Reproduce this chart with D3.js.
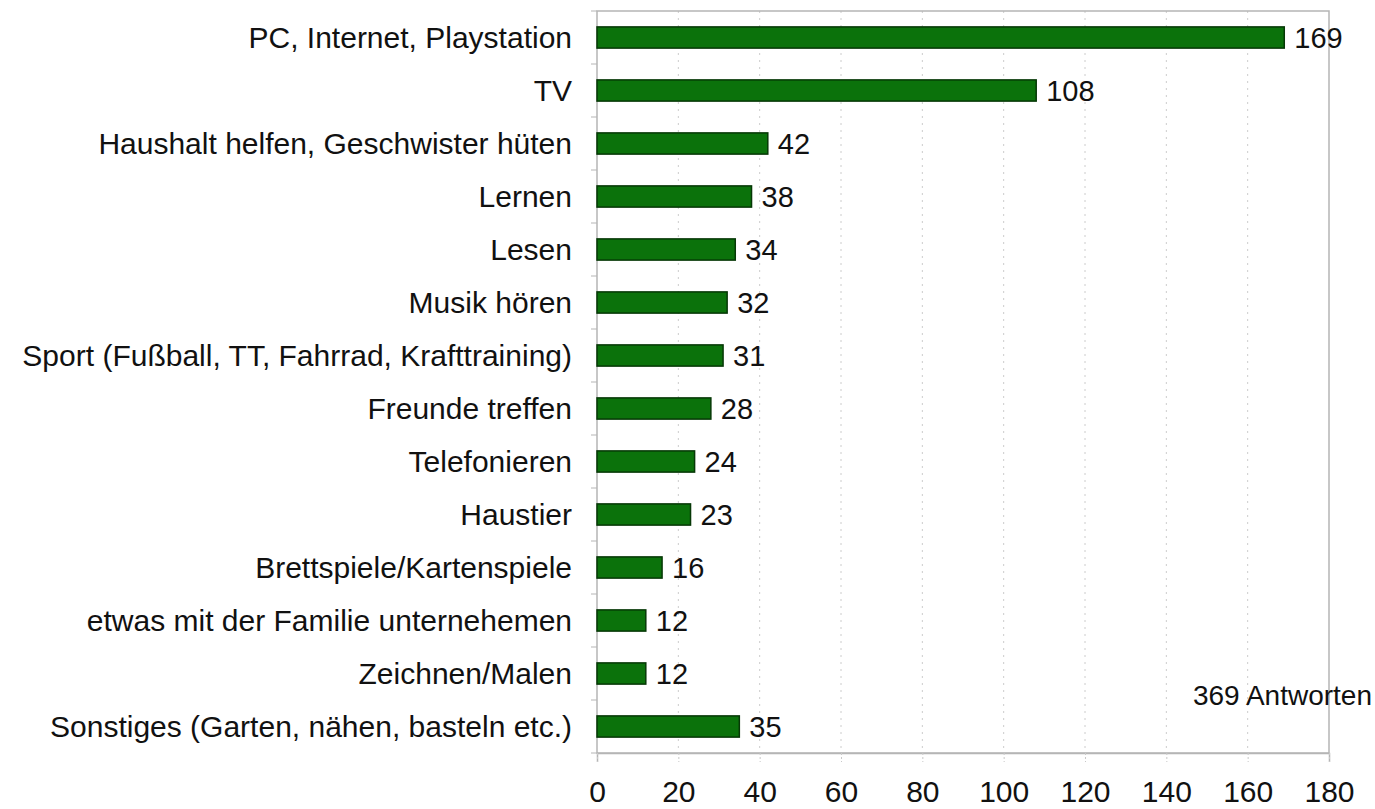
<!DOCTYPE html>
<html>
<head>
<meta charset="utf-8">
<script src="https://cdn.jsdelivr.net/npm/d3@7"></script>
<style>
  body { margin: 0; background: #fff; }
  text { font-family: "Liberation Sans", Arial, sans-serif; fill: #111; }
</style>
</head>
<body>
<svg id="chart"></svg>
<script>
// Freizeitaktivitaeten, Anzahl Nennungen
var categories = [
  "PC, Internet, Playstation",
  "TV",
  "Haushalt helfen, Geschwister hüten",
  "Lernen",
  "Lesen",
  "Musik hören",
  "Sport (Fußball, TT, Fahrrad, Krafttraining)",
  "Freunde treffen",
  "Telefonieren",
  "Haustier",
  "Brettspiele/Kartenspiele",
  "etwas mit der Familie unternehemen",
  "Zeichnen/Malen",
  "Sonstiges (Garten, nähen, basteln etc.)"
]
var values = [169, 108, 42, 38, 34, 32, 31, 28, 24, 23, 16, 12, 12, 35]
var xTicks = [0, 20, 40, 60, 80, 100, 120, 140, 160, 180]
var note = "369 Antworten"

var width = 1375
var height = 809
// (window.top is read-only, so no "top" here)
var plotL = 597, plotR = 1329, plotT = 11, plotB = 753

var svg = d3.select("#chart")
    .attr("width", width)
    .attr("height", height)

var x = d3.scaleLinear().domain([0, 180]).range([plotL, plotR])
var y = d3.scaleBand().domain(categories).range([plotT, plotB]).paddingInner(0.6).paddingOuter(0.3)

// dotted grid
svg.selectAll("line.grid")
  .data(xTicks.slice(1, -1))
  .enter().append("line")
    .attr("x1", function(d){ return x(d) })
    .attr("x2", function(d){ return x(d) })
    .attr("y1", plotT)
    .attr("y2", plotB)
    .attr("stroke", "#ccc")
    .attr("stroke-dasharray", "2,5")

// frame
svg.append("rect")
  .attr("x", plotL)
  .attr("y", plotT)
  .attr("width", plotR - plotL)
  .attr("height", plotB - plotT)
  .attr("fill", "none")
  .attr("stroke", "#b5b5b5")
  .attr("stroke-width", 1.5)

// x axis
var xAxis = svg.append("g")
  .attr("transform", "translate(0," + plotB + ")")
  .call(d3.axisBottom(x).tickValues(xTicks).tickSize(9).tickPadding(19))
xAxis.select(".domain").attr("stroke", "#b5b5b5").attr("stroke-width", 1.5)
xAxis.selectAll(".tick line").attr("stroke", "#c8c8c8").attr("stroke-dasharray", "2,2")
xAxis.selectAll("text")
  .style("font-family", "'Liberation Sans', Arial, sans-serif")
  .style("font-size", "30px")
  .attr("fill", "#111")

// small ticks between categories on the left axis
var step = (plotB - plotT) / categories.length
svg.selectAll("line.ytick")
  .data(d3.range(categories.length + 1))
  .enter().append("line")
    .attr("x1", plotL - 6)
    .attr("x2", plotL)
    .attr("y1", function(i){ return plotT + i * step })
    .attr("y2", function(i){ return plotT + i * step })
    .attr("stroke", "#b5b5b5")

// category labels
svg.selectAll("text.cat")
  .data(categories)
  .enter().append("text")
    .attr("x", plotL - 25)
    .attr("y", function(d){ return y(d) + y.bandwidth() / 2 })
    .attr("dy", "0.36em")
    .attr("text-anchor", "end")
    .style("font-size", "30px")
    .text(function(d){ return d })

// bars
svg.selectAll("rect.bar")
  .data(values)
  .enter().append("rect")
    .attr("x", x(0))
    .attr("y", function(d, i){ return y(categories[i]) })
    .attr("width", function(d){ return x(d) - x(0) })
    .attr("height", y.bandwidth())
    .attr("fill", "#0b720b")
    .attr("stroke", "#063806")
    .attr("stroke-width", 1.5)

// value labels
svg.selectAll("text.val")
  .data(values)
  .enter().append("text")
    .attr("x", function(d){ return x(d) + 10 })
    .attr("y", function(d, i){ return y(categories[i]) + y.bandwidth() / 2 })
    .attr("dy", "0.36em")
    .style("font-size", "29px")
    .text(function(d){ return d })

svg.append("text")
  .attr("x", 1372)
  .attr("y", 705)
  .attr("text-anchor", "end")
  .style("font-size", "28px")
  .text(note)
</script>
</body>
</html>
